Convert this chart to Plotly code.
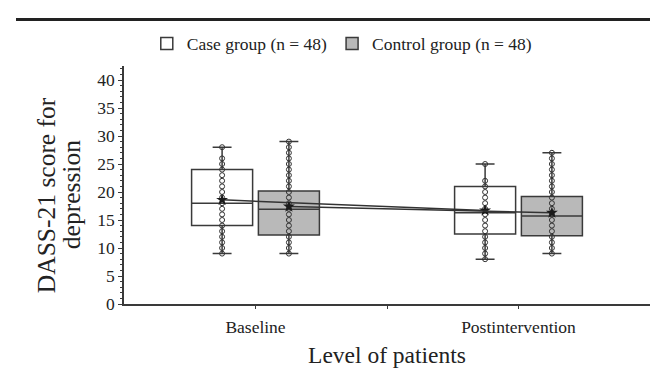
import plotly.graph_objects as go

# ---- data ----
groups = ["Baseline", "Postintervention"]

case_low = [9, 8]
case_q1 = [14, 12.5]
case_median = [18, 16.3]
case_q3 = [24, 21]
case_high = [28, 25]
case_mean = [18.6, 16.7]

control_low = [9, 9]
control_q1 = [12.3, 12.2]
control_median = [16.9, 15.7]
control_q3 = [20.2, 19.2]
control_high = [29, 27]
control_mean = [17.4, 16.3]

case_points_baseline = [28, 26, 25, 24, 23, 22, 21, 20, 19, 18, 17, 16, 15, 14, 13, 12, 11, 10, 9]
case_points_post = [25, 22, 21, 20, 19, 18, 17, 16, 15, 14, 13, 12, 11, 10, 9, 8]
control_points_baseline = [29, 28, 27, 26, 25, 24, 23, 22, 21, 20, 19, 18, 17, 16, 15, 14, 13, 12, 11, 10, 9]
control_points_post = [27, 26, 25, 24, 23, 22, 21, 20, 19, 18, 17, 16, 15, 14, 13, 12, 11, 10, 9]

y_tick_values = [0, 5, 10, 15, 20, 25, 30, 35, 40]
y_title_lines = ["DASS-21 score for", "depression"]
x_title = "Level of patients"

# ---- layout helpers ----
FONT = "Liberation Serif, Times New Roman, serif"
OFFSET = 0.127
BOX_W = 0.232
group_pos = [i + 1 for i in range(len(groups))]
case_x = [p - OFFSET for p in group_pos]
control_x = [p + OFFSET for p in group_pos]
LINE = "#3a3a3a"
TXT = "#222222"

fig = go.Figure()

fig.add_trace(go.Box(
    name="Case group (n = 48)", x=case_x,
    lowerfence=case_low, q1=case_q1, median=case_median, q3=case_q3,
    upperfence=case_high, width=BOX_W, whiskerwidth=0.31,
    fillcolor="white", line=dict(color=LINE, width=1.5),
    boxpoints=False, hoverinfo="skip"))
fig.add_trace(go.Box(
    name="Control group (n = 48)", x=control_x,
    lowerfence=control_low, q1=control_q1, median=control_median, q3=control_q3,
    upperfence=control_high, width=BOX_W, whiskerwidth=0.31,
    fillcolor="#b9b9b9", line=dict(color=LINE, width=1.5),
    boxpoints=False, hoverinfo="skip"))

point_sets = [
    (case_x[0], case_points_baseline), (case_x[1], case_points_post),
    (control_x[0], control_points_baseline), (control_x[1], control_points_post),
]
for xp, pts in point_sets:
    fig.add_trace(go.Scatter(
        x=[xp] * len(pts), y=pts, mode="markers", showlegend=False, hoverinfo="skip",
        marker=dict(symbol="circle-open", size=5, color="#333333", line=dict(width=1))))

for xs, means in [(case_x, case_mean), (control_x, control_mean)]:
    fig.add_trace(go.Scatter(
        x=xs, y=means, mode="lines+markers", showlegend=False,
        line=dict(color="#333333", width=1.5),
        marker=dict(symbol="star", size=9, color="#1a1a1a")))

fig.update_layout(
    width=658, height=368,
    margin=dict(l=116, r=16, t=58, b=64),
    paper_bgcolor="white", plot_bgcolor="white",
    font=dict(family=FONT, size=17.5, color=TXT),
    boxmode="overlay",
    showlegend=True,
    legend=dict(orientation="h", x=0.415, xanchor="center", y=1.094, yanchor="middle",
                font=dict(family=FONT, size=17.5, color=TXT),
                bgcolor="rgba(0,0,0,0)"),
    xaxis=dict(range=[0.5, 2.5], tickmode="array", tickvals=[1, 1.5, 2],
               ticktext=[groups[0], "", groups[1]],
               tickfont=dict(family=FONT, size=17.5, color=TXT),
               ticklabelstandoff=3,
               showline=True, linecolor=LINE, linewidth=1.5,
               ticks="outside", ticklen=3, tickcolor=LINE, showgrid=False, zeroline=False,
               title=dict(text=x_title, font=dict(family=FONT, size=23.5, color=TXT), standoff=11)),
    yaxis=dict(range=[0, 42.5], tickmode="array", tickvals=y_tick_values,
               tickfont=dict(family=FONT, size=17.5, color=TXT),
               showline=True, linecolor=LINE, linewidth=1.5,
               ticks="outside", ticklen=4, tickcolor=LINE, showgrid=False, zeroline=False,
               minor=dict(dtick=1, ticks="outside", ticklen=2.5, tickcolor=LINE, showgrid=False)),
    shapes=[dict(type="line", xref="paper", yref="paper",
                 x0=(8 - 116) / 526, x1=(658 - 116) / 526,
                 y0=1.195, y1=1.195, line=dict(color="#222222", width=3))],
    annotations=[
        dict(text=y_title_lines[0], xref="paper", yref="paper", x=-0.1475, y=0.459,
             xanchor="center", yanchor="middle", textangle=-90, showarrow=False,
             font=dict(family=FONT, size=25.5, color=TXT)),
        dict(text=y_title_lines[1], xref="paper", yref="paper", x=-0.100, y=0.459,
             xanchor="center", yanchor="middle", textangle=-90, showarrow=False,
             font=dict(family=FONT, size=25.5, color=TXT)),
    ],
)

fig.write_html("out.html")
